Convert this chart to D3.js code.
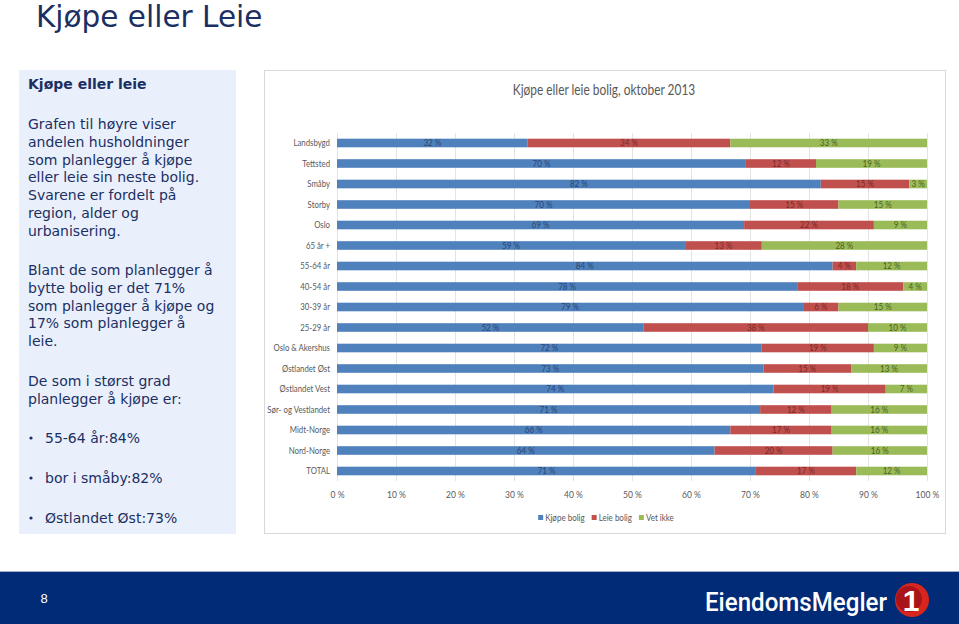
<!DOCTYPE html>
<html><head><meta charset="utf-8">
<script src="https://cdn.jsdelivr.net/npm/d3@7/dist/d3.min.js"></script>
<style>
html,body{margin:0;padding:0;background:#fff;}
svg{display:block;}
</style></head>
<body>
<svg id="c" width="959" height="624"></svg>
<script>
const categories = ["Landsbygd","Tettsted","Småby","Storby","Oslo","65 år +","55-64 år","40-54 år","30-39 år","25-29 år","Oslo & Akershus","Østlandet Øst","Østlandet Vest","Sør- og Vestlandet","Midt-Norge","Nord-Norge","TOTAL"];
const kjope = [32,70,82,70,69,59,84,78,79,52,72,73,74,71,66,64,71];
const leie  = [34,12,15,15,22,13,4,18,6,38,19,15,19,12,17,20,17];
const vetIkke = [33,19,3,15,9,28,12,4,15,10,9,13,7,16,16,16,12];
const seriesNames = ["Kjøpe bolig","Leie bolig","Vet ikke"];
const xTicks = [0,0.1,0.2,0.3,0.4,0.5,0.6,0.7,0.8,0.9,1];
const bulletItems = ["55-64 år:84%","bor i småby:82%","Østlandet Øst:73%"];

const colors = ["#4f81bd","#c0504d","#9bbb59"];
const labelColors = ["#2a4672","#7a2a28","#4a6222"];
const navy = "#1b2f63";
const chartFont = "Lato,Roboto,sans-serif";
const textFont = "'DejaVu Sans',Verdana,sans-serif";

// narrow the chart texts to mimic a condensed face; returns total new width
function condense(sel, f){
  let total = 0;
  sel.each(function(){
    const w = this.getComputedTextLength()*f;
    total += w;
    d3.select(this).attr("textLength", w).attr("lengthAdjust","spacingAndGlyphs");
  });
  return total;
}

const svg = d3.select("#c");

// Page title
svg.append("text").attr("x",36).attr("y",27).attr("font-family",textFont)
  .attr("font-size",29.5).attr("fill",navy).text("Kjøpe eller Leie");

// Left panel
svg.append("rect").attr("x",19).attr("y",70).attr("width",217).attr("height",464).attr("fill","#eaf0fb");
svg.append("text").attr("x",28).attr("y",89).attr("font-family",textFont).attr("font-weight","bold")
  .attr("font-size",14).attr("fill",navy).text("Kjøpe eller leie");
const para1 = ["Grafen til høyre viser","andelen husholdninger","som planlegger å kjøpe","eller leie sin neste bolig.","Svarene er fordelt på","region, alder og","urbanisering."];
const para2 = ["Blant de som planlegger å","bytte bolig er det 71%","som planlegger å kjøpe og","17% som planlegger å","leie."];
const para3 = ["De som i størst grad","planlegger å kjøpe er:"];
function para(lines, y0){
  lines.forEach((l,i)=>svg.append("text").attr("x",28).attr("y",y0+i*17.8)
    .attr("font-family",textFont).attr("font-size",14).attr("fill",navy).text(l));
}
para(para1,129); para(para2,275); para(para3,386);
bulletItems.forEach((b,i)=>{
  const y = 443 + i*40;
  svg.append("circle").attr("cx",31).attr("cy",y-5).attr("r",1.6).attr("fill",navy);
  svg.append("text").attr("x",45).attr("y",y).attr("font-family",textFont).attr("font-size",14)
    .attr("fill",navy).text(b);
});

// Chart box
svg.append("rect").attr("x",264.5).attr("y",70.5).attr("width",681).attr("height",463)
  .attr("fill","#fff").attr("stroke","#d9d9d9");
const title = svg.append("text").attr("x",604).attr("y",95).attr("text-anchor","middle").attr("font-family",chartFont)
  .attr("font-size",14.5).attr("fill","#595959").text("Kjøpe eller leie bolig, oktober 2013");
condense(title,0.82);

const x = d3.scaleLinear().domain([0,1]).range([337,927]);
const y = d3.scaleBand().domain(categories).range([132.75,481.25]).paddingInner(0.58).paddingOuter(0.29);

// grid
svg.append("g").selectAll("line").data(xTicks).join("line")
  .attr("x1",d=>x(d)+0.5).attr("x2",d=>x(d)+0.5).attr("y1",133).attr("y2",481)
  .attr("stroke","#e3e3e3").attr("stroke-width",1);

const rows = categories.map((c,i)=>({cat:c,"Kjøpe bolig":kjope[i],"Leie bolig":leie[i],"Vet ikke":vetIkke[i]}));
const stacked = d3.stack().keys(seriesNames).offset(d3.stackOffsetExpand)(rows);

const g = svg.append("g");
stacked.forEach((s,si)=>{
  g.append("g").selectAll("rect").data(s).join("rect")
    .attr("x",d=>x(d[0])).attr("width",d=>x(d[1])-x(d[0]))
    .attr("y",d=>y(d.data.cat)).attr("height",y.bandwidth()).attr("fill",colors[si]);
  const lbl = g.append("g").selectAll("text").data(s).join("text")
    .attr("x",d=>(x(d[0])+x(d[1]))/2).attr("y",d=>y(d.data.cat)+y.bandwidth()/2+3.3)
    .attr("text-anchor","middle").attr("font-family",chartFont).attr("font-size",9.5)
    .attr("fill",labelColors[si]).text(d=>d.data[s.key]+" %");
  condense(lbl,0.85);
});

// category axis
const yAxis = svg.append("g").attr("transform","translate(337,0)")
  .call(d3.axisLeft(y).tickSize(0).tickPadding(7));
yAxis.select(".domain").remove();
yAxis.selectAll("text").attr("font-family",chartFont).attr("font-size",10).attr("fill","#595959");
condense(yAxis.selectAll("text"),0.78);

// x axis
const xAxis = svg.append("g").attr("transform","translate(0,486)")
  .call(d3.axisBottom(x).tickValues(xTicks).tickSize(0).tickPadding(5).tickFormat(d=>Math.round(d*100)+" %"));
xAxis.select(".domain").remove();
xAxis.selectAll("text").attr("font-family",chartFont).attr("font-size",10).attr("fill","#595959");
condense(xAxis.selectAll("text"),0.85);

// legend
const leg = svg.append("g");
let lx = 0;
seriesNames.forEach((n,i)=>{
  const item = leg.append("g").attr("transform",`translate(${lx},0)`);
  item.append("rect").attr("x",0).attr("y",515).attr("width",5).attr("height",5).attr("fill",colors[i]);
  const t = item.append("text").attr("x",7).attr("y",521).attr("font-family",chartFont).attr("font-size",10)
    .attr("fill","#595959").text(n);
  const w = condense(t,0.8);
  lx += 7 + w + 7;
});
leg.attr("transform",`translate(${606 - (lx-7)/2},0)`);

// footer
svg.append("rect").attr("x",0).attr("y",571).attr("width",959).attr("height",1).attr("fill","#9fb0cc");
svg.append("rect").attr("x",0).attr("y",572).attr("width",959).attr("height",52).attr("fill","#012a77");
svg.append("text").attr("x",44).attr("y",603).attr("text-anchor","middle").attr("font-family","'Liberation Sans',sans-serif")
  .attr("font-size",13).attr("fill","#fff").text("8");
svg.append("text").attr("x",705).attr("y",611).attr("font-family","Roboto,'Liberation Sans',sans-serif")
  .attr("font-weight",500).attr("font-size",25).attr("fill","#fff").attr("textLength",182)
  .attr("lengthAdjust","spacingAndGlyphs").text("EiendomsMegler");
svg.append("circle").attr("cx",912).attr("cy",600).attr("r",17).attr("fill","#d7261e");
svg.append("circle").attr("cx",909).attr("cy",599).attr("r",13).attr("fill","#a8141a");
svg.append("text").attr("x",911).attr("y",611).attr("text-anchor","middle").attr("font-family","'Liberation Sans',sans-serif")
  .attr("font-weight","bold").attr("font-size",30).attr("fill","#fff").text("1");
</script>
</body></html>
